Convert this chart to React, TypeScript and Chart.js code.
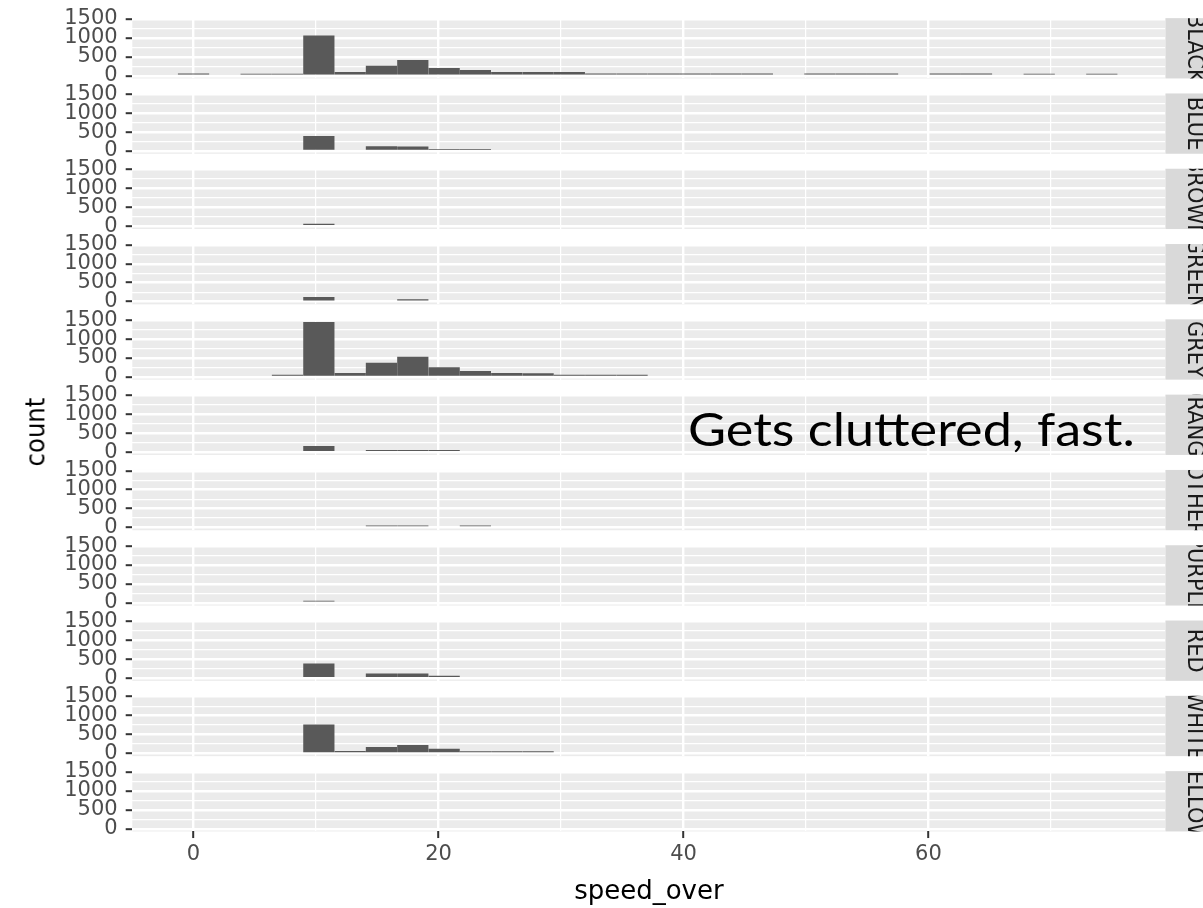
import React, { useEffect, useRef } from 'react';
import { Chart, registerables } from 'chart.js';

Chart.register(...registerables);

// ---------- data ----------
const facets = ['BLACK', 'BLUE', 'BROWN', 'GREEN', 'GREY', 'ORANGE', 'OTHER', 'PURPLE', 'RED', 'WHITE', 'YELLOW'];

const binCenters = [
  0, 2.56, 5.11, 7.67, 10.23, 12.79, 15.34, 17.9, 20.46, 23.01,
  25.57, 28.13, 30.68, 33.24, 35.8, 38.36, 40.91, 43.47, 46.03, 48.58,
  51.14, 53.7, 56.25, 58.81, 61.37, 63.92, 66.48, 69.04, 71.59, 74.15,
];

const countsBlack = [55, 0, 50, 50, 1065, 100, 260, 415, 205, 150, 95, 95, 100, 55, 55, 55, 55, 55, 55, 0, 55, 55, 55, 0, 55, 55, 0, 50, 0, 50];
const countsBlue = [0, 0, 0, 0, 400, 0, 125, 120, 50, 50, 0, 0, 0, 0, 0, 0, 0, 0, 0, 0, 0, 0, 0, 0, 0, 0, 0, 0, 0, 0];
const countsBrown = [0, 0, 0, 0, 65, 0, 0, 0, 0, 0, 0, 0, 0, 0, 0, 0, 0, 0, 0, 0, 0, 0, 0, 0, 0, 0, 0, 0, 0, 0];
const countsGreen = [0, 0, 0, 0, 120, 0, 0, 60, 0, 0, 0, 0, 0, 0, 0, 0, 0, 0, 0, 0, 0, 0, 0, 0, 0, 0, 0, 0, 0, 0];
const countsGrey = [0, 0, 0, 55, 1450, 105, 375, 530, 255, 155, 100, 95, 55, 55, 55, 0, 0, 0, 0, 0, 0, 0, 0, 0, 0, 0, 0, 0, 0, 0];
const countsOrange = [0, 0, 0, 0, 165, 0, 55, 55, 55, 0, 0, 0, 0, 0, 0, 0, 0, 0, 0, 0, 0, 0, 0, 0, 0, 0, 0, 0, 0, 0];
const countsOther = [0, 0, 0, 0, 0, 0, 55, 55, 0, 55, 0, 0, 0, 0, 0, 0, 0, 0, 0, 0, 0, 0, 0, 0, 0, 0, 0, 0, 0, 0];
const countsPurple = [0, 0, 0, 0, 55, 0, 0, 0, 0, 0, 0, 0, 0, 0, 0, 0, 0, 0, 0, 0, 0, 0, 0, 0, 0, 0, 0, 0, 0, 0];
const countsRed = [0, 0, 0, 0, 385, 0, 120, 120, 65, 0, 0, 0, 0, 0, 0, 0, 0, 0, 0, 0, 0, 0, 0, 0, 0, 0, 0, 0, 0, 0];
const countsWhite = [0, 0, 0, 0, 765, 65, 170, 225, 120, 55, 55, 55, 0, 0, 0, 0, 0, 0, 0, 0, 0, 0, 0, 0, 0, 0, 0, 0, 0, 0];
const countsYellow = [0, 0, 0, 0, 0, 0, 0, 0, 0, 0, 0, 0, 0, 0, 0, 0, 0, 0, 0, 0, 0, 0, 0, 0, 0, 0, 0, 0, 0, 0];

const facetCounts = [countsBlack, countsBlue, countsBrown, countsGreen, countsGrey, countsOrange, countsOther, countsPurple, countsRed, countsWhite, countsYellow];

const xMajorTicks = [0, 20, 40, 60];
const yMajorTicks = [0, 500, 1000, 1500];

const xTitle = 'speed_over';
const yTitle = 'count';
const annotationText = 'Gets cluttered, fast.';

// ---------- layout / style ----------
const W = 1203;
const H = 908;
const X_MIN = -5.0;
const X_MAX = 79.35;
const Y_MIN = -72.5;
const Y_MAX = 1522.5;
const ZERO0 = 75.7;          // y pixel of count=0 in first panel
const SPACING = 75.3;        // vertical distance between panels
const PANEL_H = 60.3;
const PX_PER_COUNT = PANEL_H / (Y_MAX - Y_MIN);
const AXIS_W = 132.3;
const PLOT_RIGHT = 1165.5;
const STRIP_W = 60;
const STRIP_TEXT_X = 1188;
const PAD = 12;

const FONT = 'DejaVu Sans';
const GRID_MAJOR = 2.4;
const GRID_MINOR = 1.2;

const bgPlugin = {
  id: 'panelBg',
  beforeDraw(chart: any) {
    const { ctx, chartArea: a } = chart;
    ctx.save();
    ctx.fillStyle = '#EBEBEB';
    ctx.fillRect(a.left, a.top, a.right - a.left, a.bottom - a.top);
    ctx.restore();
  },
};

function stripPlugin(label: string) {
  return {
    id: 'strip',
    afterDraw(chart: any) {
      const { ctx, chartArea: a } = chart;
      const h = a.bottom - a.top;
      ctx.save();
      ctx.fillStyle = '#D9D9D9';
      ctx.fillRect(a.right, a.top, STRIP_W, h);
      ctx.beginPath();
      ctx.rect(a.right, a.top, STRIP_W, h);
      ctx.clip();
      ctx.translate(STRIP_TEXT_X, (a.top + a.bottom) / 2);
      ctx.rotate(Math.PI / 2);
      ctx.scale(1, 1.1);
      ctx.font = `21px "${FONT}"`;
      ctx.fillStyle = '#1A1A1A';
      ctx.textAlign = 'center';
      ctx.textBaseline = 'alphabetic';
      ctx.fillText(label, 0, 0);
      ctx.restore();
    },
  };
}

function Panel({ index }: { index: number }) {
  const ref = useRef<HTMLCanvasElement>(null);
  const isLast = index === facets.length - 1;
  const zero = ZERO0 + SPACING * index;
  const panelTop = zero - Y_MAX * PX_PER_COUNT;
  const panelBottom = zero - Y_MIN * PX_PER_COUNT;
  const canvasTop = Math.round(panelTop) - PAD;
  const canvasH = isLast ? H - canvasTop : Math.round(PANEL_H) + 2 * PAD + 2;
  const padTop = panelTop - canvasTop;
  const padBottom = isLast ? 0 : canvasTop + canvasH - panelBottom;

  useEffect(() => {
    if (!ref.current) return;
    const counts = facetCounts[index];
    const isMajorX = (v: number) => xMajorTicks.includes(v);
    const isMajorY = (v: number) => yMajorTicks.includes(v);
    const chart = new Chart(ref.current, {
      type: 'bar',
      data: {
        datasets: [
          {
            data: binCenters.map((x, k) => ({ x, y: counts[k] })),
            backgroundColor: '#595959',
            borderWidth: 0,
            barPercentage: 1,
            categoryPercentage: 1,
            inflateAmount: 0,
          } as any,
        ],
      },
      options: {
        animation: false,
        responsive: false,
        events: [],
        layout: { padding: { left: 0, right: W - PLOT_RIGHT, top: padTop, bottom: padBottom } },
        plugins: { legend: { display: false }, tooltip: { enabled: false } },
        scales: {
          x: {
            type: 'linear',
            min: X_MIN,
            max: X_MAX,
            offset: false,
            ticks: {
              stepSize: 10,
              includeBounds: false,
              autoSkip: false,
              maxRotation: 0,
              display: isLast,
              color: '#4D4D4D',
              font: { family: FONT, size: 21 },
              padding: 4,
              callback: (v: any) => (isMajorX(Number(v)) ? String(v) : ''),
            },
            grid: {
              offset: false,
              color: '#FFFFFF',
              lineWidth: (c: any) => (c.tick && isMajorX(c.tick.value) ? GRID_MAJOR : GRID_MINOR),
              drawTicks: isLast,
              tickLength: 6.6,
              tickWidth: 2,
              tickColor: (c: any) => (c.tick && isMajorX(c.tick.value) ? '#333333' : 'rgba(0,0,0,0)'),
            },
            border: { display: false },
            title: {
              display: isLast,
              text: xTitle,
              color: '#000000',
              font: { family: FONT, size: 26 },
              padding: { top: 0, bottom: 0 },
            },
            afterFit: (s: any) => {
              s.height = isLast ? H - panelBottom : 0;
              s.paddingLeft = 0;
              s.paddingRight = 0;
              s.paddingTop = 0;
              s.paddingBottom = 0;
            },
          },
          y: {
            type: 'linear',
            min: Y_MIN,
            max: Y_MAX,
            ticks: {
              stepSize: 250,
              includeBounds: false,
              autoSkip: false,
              color: '#4D4D4D',
              font: { family: FONT, size: 21 },
              padding: 8,
              callback: (v: any) => (isMajorY(Number(v)) ? String(v) : ''),
            },
            grid: {
              color: '#FFFFFF',
              lineWidth: (c: any) => (c.tick && isMajorY(c.tick.value) ? GRID_MAJOR : GRID_MINOR),
              drawTicks: true,
              tickLength: 6.6,
              tickWidth: 2,
              tickColor: (c: any) => (c.tick && isMajorY(c.tick.value) ? '#333333' : 'rgba(0,0,0,0)'),
            },
            border: { display: false },
            afterFit: (s: any) => {
              s.width = AXIS_W;
              s.paddingLeft = 0;
              s.paddingRight = 0;
              s.paddingTop = 0;
              s.paddingBottom = 0;
            },
          },
        },
      } as any,
      plugins: [bgPlugin, stripPlugin(facets[index])],
    });
    return () => chart.destroy();
  }, [index]);

  return (
    <canvas
      ref={ref}
      width={W}
      height={canvasH}
      style={{ position: 'absolute', left: 0, top: canvasTop, width: W, height: canvasH }}
    />
  );
}

export default function App() {
  return (
    <div
      style={{
        position: 'absolute',
        left: 0,
        top: 0,
        width: W,
        height: H,
        overflow: 'hidden',
        background: '#FFFFFF',
      }}
    >
      {facets.map((f, i) => (
        <Panel key={f} index={i} />
      ))}
      <div
        style={{
          position: 'absolute',
          left: 36 - 100,
          top: 432 - 16,
          width: 200,
          height: 32,
          lineHeight: '32px',
          textAlign: 'center',
          fontFamily: FONT,
          fontSize: 24.4,
          color: '#000000',
          transform: 'rotate(-90deg) scaleY(1.1)',
        }}
      >
        {yTitle}
      </div>
      <div
        style={{
          position: 'absolute',
          left: 688,
          top: 405,
          fontFamily: 'Lato',
          fontSize: 47,
          lineHeight: 1,
          whiteSpace: 'nowrap',
          color: '#000000',
          transform: 'scaleX(1.11)',
          transformOrigin: 'left top',
        }}
      >
        {annotationText}
      </div>
    </div>
  );
}
